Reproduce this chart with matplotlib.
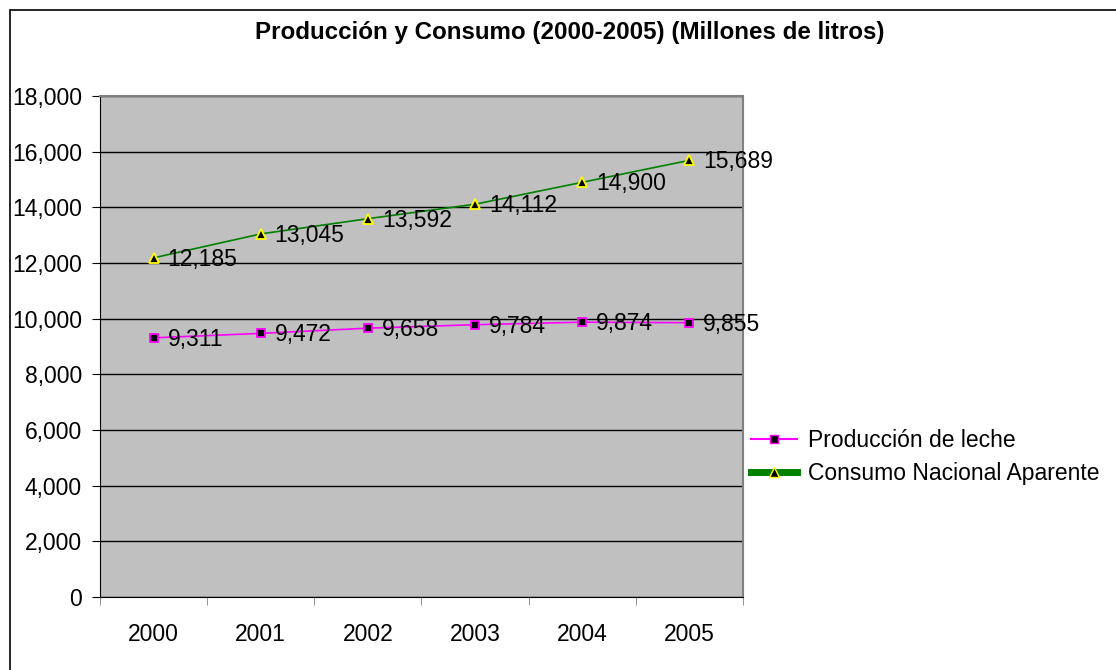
import matplotlib
matplotlib.use("Agg")
import matplotlib.pyplot as plt
import matplotlib.lines as mlines
from matplotlib.patches import Rectangle
from matplotlib.ticker import FuncFormatter, MultipleLocator

years = ["2000", "2001", "2002", "2003", "2004", "2005"]
produccion = [9311, 9472, 9658, 9784, 9874, 9855]
consumo = [12185, 13045, 13592, 14112, 14900, 15689]
series_names = ["Producción de leche", "Consumo Nacional Aparente"]
title = "Producción y Consumo (2000-2005) (Millones de litros)"

plt.rcParams['font.family'] = ['Liberation Sans', 'DejaVu Sans']

W, H = 1116, 670
FS = 16.5
fig = plt.figure(figsize=(W / 100, H / 100), dpi=100)
fig.patch.set_facecolor('white')

# outer chart border
fig.patches.append(Rectangle((10 / W, -0.05), 1.1, (H - 10) / H + 0.05,
                             transform=fig.transFigure, fill=False,
                             edgecolor='black', linewidth=1.2, zorder=0))

ax = fig.add_axes([100 / W, (H - 597) / H, (743 - 100) / W, (597 - 96) / H])
ax.set_facecolor('#c0c0c0')
x = list(range(len(years)))

ax.plot(x, produccion, color='#ff00ff', linewidth=1.2, marker='s',
        markersize=6, markerfacecolor='black', markeredgecolor='#ff00ff',
        markeredgewidth=1.3, zorder=3)
ax.plot(x, consumo, color='#008000', linewidth=1.2, marker='^',
        markersize=7, markerfacecolor='black', markeredgecolor='#ffff00',
        markeredgewidth=1.3, zorder=3)

for xi, v in zip(x, produccion):
    ax.annotate(f"{v:,}", (xi, v), xytext=(10, -1), textcoords='offset points',
                ha='left', va='center', fontsize=FS, color='black', zorder=4)
for xi, v in zip(x, consumo):
    ax.annotate(f"{v:,}", (xi, v), xytext=(10, -1), textcoords='offset points',
                ha='left', va='center', fontsize=FS, color='black', zorder=4)

ax.set_xlim(-0.5, len(years) - 0.5)
ax.set_ylim(0, 18000)
ax.yaxis.set_major_locator(MultipleLocator(2000))
ax.yaxis.set_major_formatter(FuncFormatter(lambda v, p: f"{int(v):,}"))
ax.set_xticks(x)
ax.set_xticklabels(years)
ax.set_xticks([i - 0.5 for i in range(len(years) + 1)], minor=True)
ax.tick_params(axis='x', which='major', length=0, pad=19, labelsize=FS)
ax.tick_params(axis='x', which='minor', length=6, direction='out', color='#808080')
ax.tick_params(axis='y', length=6, direction='out', labelsize=FS, pad=7)
ax.grid(axis='y', color='black', linewidth=1)
ax.set_axisbelow(True)
for s in ['top', 'right']:
    ax.spines[s].set_color('#808080')
    ax.spines[s].set_linewidth(1.5)
ax.spines['left'].set_color('black')
ax.spines['bottom'].set_color('black')

fig.text(570 / W, (H - 32) / H, title, ha='center', va='center',
         fontsize=17.4, fontweight='bold')

h1 = mlines.Line2D([], [], color='#ff00ff', linewidth=1.5, marker='s',
                   markersize=6, markerfacecolor='black', markeredgecolor='#ff00ff')
h2 = mlines.Line2D([], [], color='#008000', linewidth=5, marker='^',
                   markersize=7, markerfacecolor='black', markeredgecolor='#ffff00')
fig.legend([h1, h2], series_names, loc='upper left',
           bbox_to_anchor=(751 / W, (H - 429) / H), frameon=False,
           fontsize=FS, handlelength=2.0, handletextpad=0.5, labelspacing=0.45,
           borderaxespad=0, borderpad=0)

fig.savefig("out.png", dpi=100)
